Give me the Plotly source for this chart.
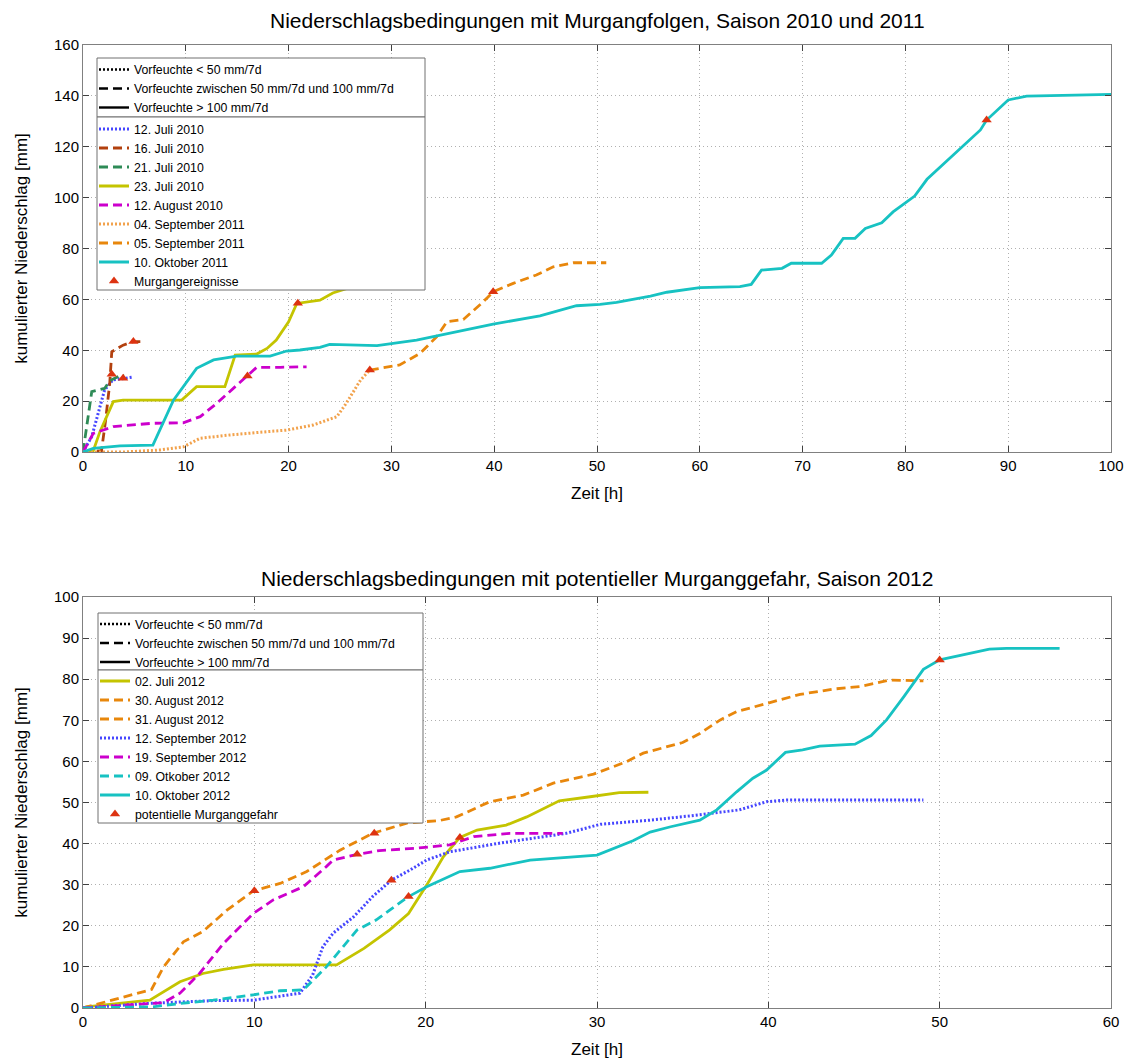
import plotly.graph_objects as go

W, H = 1130, 1062
FONT = "Liberation Sans, Arial, sans-serif"

# ---------------- Saison 2010 und 2011 ----------------
t_12jul10 = [0, 0.85, 1.65, 2.1, 2.9, 3.9, 4.8]
v_12jul10 = [0, 6, 17.8, 24.4, 28.3, 29, 29.4]

t_16jul10 = [0, 1.8, 2.2, 2.6, 2.8, 3.3, 3.9, 4.9, 5.7]
v_16jul10 = [0, 0.5, 12.5, 27, 39.4, 40.7, 42, 43.4, 43.4]

t_21jul10 = [0, 0.85, 2.1, 2.6, 3.6, 4.0]
v_21jul10 = [0, 23.7, 25, 28, 30, 30]

t_23jul10 = [0, 1.0, 1.65, 2.95, 3.9, 9.6, 11.05, 13.8, 14.8, 16.9, 17.9, 18.8,
             20, 20.8, 23.05, 24.3, 26, 28, 30]
v_23jul10 = [0, 0.5, 8, 19.8, 20.4, 20.4, 25.7, 25.7, 38.1, 38.5, 40.7, 44,
             51.2, 58.4, 59.7, 62.5, 64.7, 67, 69]

t_12aug10 = [0, 1, 2.95, 4.6, 6.8, 9.75, 11.4, 13, 14.6, 15.9, 16.9, 19.2, 21.75]
v_12aug10 = [0, 7.3, 10, 10.6, 11.3, 11.5, 13.9, 19.1, 25, 29.9, 33.3, 33.3, 33.5]

t_04sep11 = [0, 4, 7.5, 9.75, 11.4, 14.3, 17.9, 19.8, 22.4, 24.7, 25.6, 27, 27.9]
v_04sep11 = [0, 0, 0.8, 2, 5.4, 6.7, 8, 8.6, 10.6, 13.9, 19.1, 28.3, 32.2]

t_05sep11 = [27.9, 29.9, 30.8, 32.8, 34.4, 35.4, 37, 38.95, 39.9, 41.85, 44.1,
             45.75, 47.7, 50.9]
v_05sep11 = [32.2, 33.5, 34.2, 38.8, 45.3, 51.2, 52.1, 59.1, 63, 66.3, 69.6,
             72.8, 74.4, 74.4]

t_10okt11 = [0, 1, 3.6, 6.8, 8.8, 11.05, 12.7, 14.95, 18.2, 19.8, 21.1, 23.05, 24,
             28.6, 32.45, 35.7, 39.9, 44.45, 48, 50.3, 51.9, 55.2, 56.8, 60, 63.9,
             65, 66, 68, 68.9, 71.85, 72.8, 73.95, 75.1, 76.1, 77.7, 78.8, 80.9,
             82.1, 86, 87.3, 87.9, 88.9, 90, 91.8, 100]
v_10okt11 = [0, 1.4, 2.4, 2.7, 20.4, 32.9, 36.2, 37.7, 37.7, 39.7, 40.1, 41.1, 42.3,
             41.8, 44, 46.7, 50.3, 53.5, 57.5, 58, 58.8, 61.3, 62.8, 64.6, 65,
             65.9, 71.5, 72.2, 74.2, 74.2, 77.4, 84, 84, 87.9, 90.1, 94.4, 100.6,
             107.2, 122, 126.6, 130.5, 134.4, 138.4, 139.9, 140.6]

t_events = [2.8, 3.9, 4.9, 16, 20.9, 27.9, 39.9, 87.9]
v_events = [30.6, 29, 43.4, 29.9, 58.5, 32.2, 63, 130.5]

# ---------------- Saison 2012 ----------------
t_02jul12 = [0, 0.2, 3.9, 5.66, 7.0, 8.2, 9.94, 14.8, 16.4, 17.9, 19, 20.06, 21.03,
             22, 23, 24.7, 25.9, 27.8, 29.6, 31.3, 33]
v_02jul12 = [0, 0.3, 1.9, 6.4, 8.4, 9.4, 10.5, 10.5, 14.5, 19, 23, 29.9, 36.8,
             41.5, 43.3, 44.5, 46.5, 50.4, 51.4, 52.4, 52.5]

t_30aug12 = [0, 4.0, 4.7, 5.86, 7.0, 8.4, 9.94, 11.5, 13.06, 15, 16.9]
v_30aug12 = [0, 4.5, 10, 16.1, 18.6, 23.8, 28.5, 30.3, 33.2, 38.4, 42.5]

t_31aug12 = [16.9, 18.9, 20.8, 21.8, 23.75, 25.7, 27.45, 29.8, 31.7, 32.7, 35.0,
             36.0, 37.2, 38.15, 39.9, 41.85, 43.8, 45.35, 47.1, 49.05]
v_31aug12 = [42.5, 45, 45.6, 46.5, 50.2, 51.8, 54.7, 56.9, 59.9, 62, 64.6, 66.8,
             70.1, 72.1, 74.1, 76.3, 77.6, 78.2, 79.8, 79.6]

t_12sep12 = [0, 3.7, 7.6, 9.94, 12.66, 13.4, 14.0, 14.6, 15.8, 16.9, 18, 19.1,
             20.06, 21.4, 24.3, 26.3, 28.2, 30.2, 33.1, 36, 38.3, 39.9, 41.1, 49.05]
v_12sep12 = [0, 1.1, 1.8, 1.9, 3.6, 8, 14.9, 18.2, 22.2, 27.1, 31.1, 33.6, 36, 38,
             40.1, 41.3, 42.5, 44.7, 45.7, 47, 48.2, 50.2, 50.6, 50.6]

t_19sep12 = [0, 4.7, 5.66, 6.8, 8.2, 9.94, 11.1, 12.86, 14.2, 14.6, 16, 17.3, 19.5,
             21.4, 22.8, 24.9, 28]
v_19sep12 = [0, 1.3, 3.6, 8.4, 15.7, 23, 26.3, 29.5, 34.4, 36, 37.4, 38.3, 38.9,
             39.7, 41.7, 42.5, 42.5]

t_09okt12 = [0, 4.1, 5.66, 7.6, 9.94, 11.5, 12.86, 14.2, 16, 17.1, 19]
v_09okt12 = [0, 0.3, 1.1, 1.9, 3.2, 4.2, 4.4, 10, 19, 21.4, 27.1]

t_10okt12 = [19, 20.06, 22, 23.75, 26.1, 28.2, 30, 32.1, 33.1, 34.3, 36, 36.99,
             38.15, 39.1, 39.9, 41, 42, 43, 45.06, 46, 46.9, 47.9, 49.05, 50, 51.6,
             52.9, 53.9, 57]
v_10okt12 = [27.1, 29.5, 33.2, 34, 36, 36.7, 37.2, 40.7, 42.8, 44.1, 45.7, 48.2,
             52.6, 55.9, 57.9, 62.2, 62.8, 63.7, 64.2, 66.3, 70.1, 75.7, 82.4, 84.7,
             86.1, 87.3, 87.5, 87.5]

t_gefahr = [10, 16, 17, 18, 19, 22, 50]
v_gefahr = [28.5, 37.4, 42.5, 31.1, 27.1, 41.5, 84.7]

style_labels = ["Vorfeuchte < 50 mm/7d",
                "Vorfeuchte zwischen 50 mm/7d und 100 mm/7d",
                "Vorfeuchte > 100 mm/7d"]
style_kinds = ["dot", "dash", "solid"]

BLUE = "#4646ff"
BROWN = "#b2400e"
GREEN = "#2e8b57"
OLIVE = "#c4c400"
MAGENTA = "#cc00cc"
LIGHTORANGE = "#f2a24c"
ORANGE = "#e8870c"
CYAN = "#17c2c2"
RED = "#dd3311"

# MATLAB-like line patterns
DASHES = {"dot": "2px,2px", "dash": "9px,5px", "solid": "solid"}

fig = go.Figure()


def add_line(x, y, name, color, kind, xa, ya, legend):
    fig.add_trace(go.Scatter(
        x=x, y=y, name=name, mode="lines", xaxis=xa, yaxis=ya, legend=legend,
        line=dict(color=color, width=2.8 if kind != "dot" else 3.0,
                  dash=DASHES[kind]),
    ))


def add_style_legend(xa, ya, legend):
    for lab, k in zip(style_labels, style_kinds):
        fig.add_trace(go.Scatter(
            x=[None], y=[None], name=lab, mode="lines", xaxis=xa, yaxis=ya,
            legend=legend, line=dict(color="black", width=2.4, dash=DASHES[k]),
        ))


# top panel
add_style_legend("x", "y", "legend")
add_line(t_12jul10, v_12jul10, "12. Juli 2010", BLUE, "dot", "x", "y", "legend2")
add_line(t_16jul10, v_16jul10, "16. Juli 2010", BROWN, "dash", "x", "y", "legend2")
add_line(t_21jul10, v_21jul10, "21. Juli 2010", GREEN, "dash", "x", "y", "legend2")
add_line(t_23jul10, v_23jul10, "23. Juli 2010", OLIVE, "solid", "x", "y", "legend2")
add_line(t_12aug10, v_12aug10, "12. August 2010", MAGENTA, "dash", "x", "y", "legend2")
add_line(t_04sep11, v_04sep11, "04. September 2011", LIGHTORANGE, "dot", "x", "y", "legend2")
add_line(t_05sep11, v_05sep11, "05. September 2011", ORANGE, "dash", "x", "y", "legend2")
add_line(t_10okt11, v_10okt11, "10. Oktober 2011", CYAN, "solid", "x", "y", "legend2")
fig.add_trace(go.Scatter(
    x=t_events, y=v_events, name="Murgangereignisse", mode="markers",
    xaxis="x", yaxis="y", legend="legend2",
    marker=dict(symbol="triangle-up", size=9, color=RED),
))

# bottom panel
add_style_legend("x2", "y2", "legend3")
add_line(t_02jul12, v_02jul12, "02. Juli 2012", OLIVE, "solid", "x2", "y2", "legend4")
add_line(t_30aug12, v_30aug12, "30. August 2012", ORANGE, "dash", "x2", "y2", "legend4")
add_line(t_31aug12, v_31aug12, "31. August 2012", ORANGE, "dash", "x2", "y2", "legend4")
add_line(t_12sep12, v_12sep12, "12. September 2012", BLUE, "dot", "x2", "y2", "legend4")
add_line(t_19sep12, v_19sep12, "19. September 2012", MAGENTA, "dash", "x2", "y2", "legend4")
add_line(t_09okt12, v_09okt12, "09. Otkober 2012", CYAN, "dash", "x2", "y2", "legend4")
add_line(t_10okt12, v_10okt12, "10. Oktober 2012", CYAN, "solid", "x2", "y2", "legend4")
fig.add_trace(go.Scatter(
    x=t_gefahr, y=v_gefahr, name="potentielle Murganggefahr", mode="markers",
    xaxis="x2", yaxis="y2", legend="legend4",
    marker=dict(symbol="triangle-up", size=9, color=RED),
))


def px_x(p):
    return p / W


def px_y(p):
    return 1 - p / H


X0, X1 = px_x(83), px_x(1111)
TOP = (px_y(452), px_y(45))
BOT = (px_y(1008), px_y(597))

axis_common = dict(
    showline=True, linecolor="#808080", linewidth=1, mirror="ticks",
    ticks="inside", ticklen=6, tickcolor="#404040",
    showgrid=True, gridcolor="#b0b0b0", griddash="1px,3px", gridwidth=1,
    zeroline=False, automargin=False,
    tickfont=dict(family=FONT, size=15, color="black"),
    title_font=dict(family=FONT, size=17, color="black"),
)

legend_common = dict(
    bgcolor="rgba(0,0,0,0)", borderwidth=0,
    font=dict(family=FONT, size=12.3, color="black"),
    xanchor="left", yanchor="top", tracegroupgap=0,
)

fig.update_layout(
    width=W, height=H, margin=dict(l=0, r=0, t=0, b=0),
    paper_bgcolor="white", plot_bgcolor="white",
    font=dict(family=FONT, color="black"),
    xaxis=dict(domain=[X0, X1], anchor="y", range=[0, 100], dtick=10,
               title=dict(text="Zeit [h]", standoff=14), **axis_common),
    yaxis=dict(domain=list(TOP), anchor="x", range=[0, 160], dtick=20,
               title=dict(text="kumulierter Niederschlag [mm]", standoff=22),
               **axis_common),
    xaxis2=dict(domain=[X0, X1], anchor="y2", range=[0, 60], dtick=10,
                title=dict(text="Zeit [h]", standoff=14), **axis_common),
    yaxis2=dict(domain=list(BOT), anchor="x2", range=[0, 100], dtick=10,
                title=dict(text="kumulierter Niederschlag [mm]", standoff=22),
                **axis_common),
    legend=dict(x=px_x(94), y=px_y(55), **legend_common),
    legend2=dict(x=px_x(94), y=px_y(114.5), **legend_common),
    legend3=dict(x=px_x(95), y=px_y(609.5), **legend_common),
    legend4=dict(x=px_x(95), y=px_y(666.5), **legend_common),
    showlegend=True,
)

# legend frames (white boxes drawn over the data, below the legend text)
for (x0, y0, x1, y1) in [(97, 58, 425, 117), (97, 117, 425, 290),
                         (98, 613, 423, 670), (98, 670, 423, 823)]:
    fig.add_shape(type="rect", xref="paper", yref="paper",
                  x0=px_x(x0), x1=px_x(x1), y0=px_y(y1), y1=px_y(y0),
                  fillcolor="white", line=dict(color="#707070", width=1),
                  layer="above")

fig.add_annotation(text="Niederschlagsbedingungen mit Murgangfolgen, Saison 2010 und 2011",
                   x=(X0 + X1) / 2, y=px_y(21), xref="paper", yref="paper",
                   yanchor="middle", showarrow=False,
                   font=dict(family=FONT, size=21, color="black"))
fig.add_annotation(text="Niederschlagsbedingungen mit potentieller Murganggefahr, Saison 2012",
                   x=(X0 + X1) / 2, y=px_y(578), xref="paper", yref="paper",
                   yanchor="middle", showarrow=False,
                   font=dict(family=FONT, size=21, color="black"))

fig.write_html("out.html", post_script="document.body.style.margin='0';")
